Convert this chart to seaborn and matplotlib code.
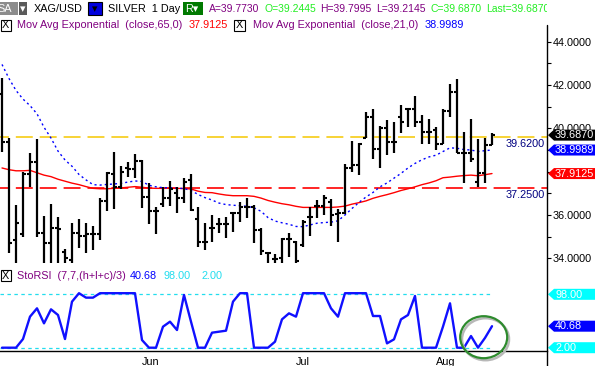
import numpy as np
import pandas as pd
import seaborn as sns
import matplotlib.pyplot as plt
from matplotlib.patches import Polygon, Rectangle, Ellipse
from matplotlib.lines import Line2D
from matplotlib.transforms import Affine2D
from matplotlib.ticker import MultipleLocator, FuncFormatter

# XAG/USD daily bars, 3 May - 11 Aug 2011
opens = [41.58, 39.38, 34.84, 35.10, 37.87, 38.46, 35.15, 34.69, 35.40, 34.30,
         33.92, 35.15, 35.05, 35.10, 35.10, 36.64, 37.89, 37.30, 38.18, 38.12,
         38.50, 36.84, 36.20, 36.49, 36.80, 37.00, 36.80, 37.60, 35.81, 34.77,
         35.41, 35.57, 35.57, 36.07, 36.07, 36.38, 36.38, 35.30, 34.23, 33.95,
         34.00, 34.89, 34.74, 34.60, 35.92, 36.41, 36.41, 36.60, 36.03, 36.10,
         38.16, 38.30, 39.57, 40.54, 39.03, 40.00, 39.38, 40.54, 40.87, 40.87,
         40.27, 39.81, 39.92, 39.30, 40.81, 41.66, 38.87, 38.87, 37.54, 37.92,
         39.2445]
highs = [42.31, 39.54, 36.46, 38.00, 38.84, 39.50, 35.97, 36.49, 35.92, 34.43,
         35.61, 35.81, 35.61, 35.49, 36.80, 37.97, 38.89, 38.26, 38.43, 38.80,
         38.54, 37.46, 36.38, 37.30, 37.57, 37.30, 37.69, 37.87, 36.38, 35.61,
         36.00, 35.84, 35.92, 36.15, 36.58, 36.77, 36.45, 35.41, 34.26, 34.18,
         34.95, 35.15, 34.81, 35.77, 36.38, 36.69, 36.92, 36.72, 36.26, 38.36,
         39.40, 39.31, 40.77, 40.88, 40.11, 40.39, 40.31, 41.07, 40.95, 41.49,
         40.61, 40.41, 40.07, 40.87, 42.04, 42.26, 39.84, 40.41, 39.49, 39.54,
         39.7995]
lows = [38.92, 34.23, 33.60, 35.00, 37.30, 35.00, 33.50, 32.40, 33.40, 33.30,
        33.50, 34.49, 34.23, 34.38, 34.84, 36.20, 36.26, 37.18, 37.77, 37.72,
        36.34, 35.57, 35.10, 36.38, 36.43, 36.07, 36.54, 36.18, 34.54, 34.38,
        34.77, 35.15, 34.92, 35.23, 35.66, 35.87, 34.69, 34.15, 33.60, 33.60,
        33.70, 34.07, 33.70, 34.54, 35.03, 35.84, 36.00, 35.50, 34.77, 36.03,
        38.00, 37.85, 39.57, 38.57, 38.16, 38.77, 38.85, 39.80, 40.07, 40.07,
        39.30, 39.27, 39.00, 39.27, 40.54, 38.87, 37.49, 38.46, 37.27, 37.49,
        39.2145]
closes = [39.38, 34.69, 35.64, 37.87, 38.46, 35.15, 34.70, 35.38, 35.35, 34.00,
          35.15, 35.05, 35.10, 35.10, 36.64, 37.92, 37.30, 38.00, 38.12, 38.50,
          36.84, 36.20, 36.20, 36.80, 37.20, 36.80, 37.53, 36.25, 34.77, 34.77,
          35.41, 35.57, 35.57, 36.07, 36.38, 36.38, 35.30, 34.34, 34.23, 33.98,
          34.89, 34.89, 33.89, 35.69, 35.92, 36.41, 36.77, 36.00, 36.10, 38.16,
          38.30, 39.30, 40.54, 39.03, 40.00, 39.39, 39.35, 40.30, 40.87, 40.27,
          39.85, 39.81, 39.30, 40.81, 41.66, 38.87, 38.87, 38.57, 37.92, 39.23,
          39.687]
ema21 = [42.95, 42.30, 41.75, 41.35, 41.05, 40.67, 40.05, 39.55, 38.95, 38.54,
         38.25, 37.87, 37.62, 37.40, 37.38, 37.41, 37.43, 37.46, 37.52, 37.57,
         37.55, 37.37, 37.30, 37.26, 37.26, 37.24, 37.22, 37.13, 36.95, 36.80,
         36.69, 36.55, 36.48, 36.45, 36.43, 36.40, 36.33, 36.17, 35.88, 35.72,
         35.64, 35.57, 35.47, 35.46, 35.54, 35.62, 35.65, 35.67, 35.73, 36.00,
         36.30, 36.58, 36.83, 37.04, 37.30, 37.48, 37.70, 37.92, 38.17, 38.38,
         38.55, 38.68, 38.76, 38.93, 39.10, 39.08, 39.02, 39.00, 38.93, 38.97,
         38.9989]
ema65 = [38.17, 38.09, 38.04, 38.04, 38.06, 37.95, 37.84, 37.77, 37.65, 37.56,
         37.47, 37.40, 37.31, 37.23, 37.21, 37.21, 37.23, 37.25, 37.28, 37.31,
         37.28, 37.24, 37.23, 37.23, 37.23, 37.23, 37.22, 37.20, 37.10, 37.04,
         37.03, 36.97, 36.92, 36.89, 36.89, 36.89, 36.86, 36.78, 36.67, 36.59,
         36.52, 36.47, 36.40, 36.35, 36.35, 36.35, 36.35, 36.35, 36.37, 36.41,
         36.50, 36.57, 36.65, 36.77, 36.86, 36.94, 37.03, 37.13, 37.21, 37.30,
         37.40, 37.48, 37.58, 37.72, 37.75, 37.79, 37.82, 37.84, 37.81, 37.86,
         37.9125]
storsi = [2, 2, 2, 17.6, 57.8, 72.8, 45.8, 71, 60.8, 17.6,
          84.8, 100, 92, 92, 100, 100, 100, 100, 100, 100,
          15.8, 2, 2, 39.8, 48.8, 33.8, 96.8, 48.8, 2, 2,
          29, 30.8, 32.6, 84.8, 100, 100, 2, 2, 2, 12.8,
          53, 63.8, 57.8, 100, 100, 100, 100, 72.8, 57.8, 100,
          100, 100, 100, 59, 59, 9.8, 17, 53, 60.8, 95,
          2, 2, 2, 40, 81.8, 2, 2, 23, 2, 19.6,
          40.68]
month_ticks = [20, 42, 62]
month_labels = ['Jun', 'Jul', 'Aug']
resistance = 39.62
support = 37.25
quote = [('A=39.7730', '#800080'), ('O=39.2445', '#22ee22'), ('H=39.7995', '#800080'),
         ('L=39.2145', '#800080'), ('C=39.6870', '#22ee22'), ('Last=39.6870', '#22ee22')]

df = pd.DataFrame({'i': np.arange(len(closes)), 'open': opens, 'high': highs,
                   'low': lows, 'close': closes, 'ema21': ema21, 'ema65': ema65,
                   'storsi': storsi})

sns.set_style('white')
plt.rcParams['font.family'] = ['Liberation Sans', 'DejaVu Sans']
plt.rcParams['lines.scale_dashes'] = False
FS = 7.8
W, H = 595, 366

fig = plt.figure(figsize=(W / 100, H / 100), dpi=100)
px = Affine2D().scale(1 / W, -1 / H).translate(0, 1) + fig.transFigure

ax = fig.add_axes([0, 1 - 263 / H, 547 / W, (263 - 25) / H])
ax2 = fig.add_axes([0, 1 - 351 / H, 547 / W, (351 - 263) / H])
for a in (ax, ax2):
    a.set_xlim(-2 / 7, 545 / 7)
    a.set_facecolor('none')
    for s in a.spines.values():
        s.set_visible(False)
ax.set_ylim(33.783, 44.771)
ax2.set_ylim(-3.93, 154.3)

# price panel
ax.axhline(resistance, color='#f5c800', lw=1.1, linestyle=(5.8, (12.2, 5.0)))
ax.axhline(support, color='#ff0000', lw=1.2, linestyle=(5.8, (12.2, 5.0)))
sns.lineplot(data=df, x='i', y='ema65', ax=ax, color='#ff0000', lw=1.0, legend=False)
sns.lineplot(data=df, x='i', y='ema21', ax=ax, color='#0000ff', lw=1.0,
             linestyle=(0, (1.5, 2.2)), legend=False)
ax.vlines(df['i'], df['low'], df['high'], color='black', lw=1.6, capstyle='butt')
ax.hlines(df['open'], df['i'] - 0.42, df['i'], color='black', lw=1.5, capstyle='butt')
ax.hlines(df['close'], df['i'], df['i'] + 0.42, color='black', lw=1.5, capstyle='butt')

ax.set_xticks([])
ax.yaxis.tick_right()
ax.yaxis.set_major_locator(MultipleLocator(2))
ax.yaxis.set_minor_locator(MultipleLocator(1))
# the 38 label sits fully under the EMA65 flag in the original
ax.yaxis.set_major_formatter(FuncFormatter(lambda v, p: '' if abs(v - 38) < 0.01 else f'{v:.4f}'))
ax.tick_params(axis='y', which='both', direction='out', length=3, width=0.8,
               pad=1, labelsize=FS, colors='black')
ax.set_xlabel('')
ax.set_ylabel('')

# stochastic RSI panel
ax2.axhline(98, color='#22ddee', lw=0.9, linestyle=(0, (2.5, 2.5)), xmax=492 / 547)
ax2.axhline(2, color='#22ddee', lw=0.9, linestyle=(0, (2.5, 2.5)), xmax=492 / 547)
sns.lineplot(data=df, x='i', y='storsi', ax=ax2, color='#1010ff', lw=1.7, legend=False)
ax2.spines['bottom'].set_visible(True)
ax2.spines['bottom'].set_color('black')
ax2.spines['bottom'].set_linewidth(1.0)
ax2.set_yticks([])
ax2.set_xticks(month_ticks)
ax2.set_xticklabels(month_labels, ha='left', fontsize=FS)
ax2.tick_params(axis='x', direction='out', length=4, width=0.8, pad=0.5, colors='black')
ax2.set_xlabel('')
ax2.set_ylabel('')

fig.add_artist(Line2D([547, 547], [25, 366], transform=px, color='black', lw=1.0))


def py(a, v):
    return H - a.transData.transform((0, v))[1]


def flag(y, label, fc):
    fig.add_artist(Polygon([(548, y), (554, y - 5.5), (596, y - 5.5), (596, y + 5.5), (554, y + 5.5)],
                           closed=True, transform=px, fc=fc, ec='none'))
    fig.text(555, y + 0.3, label, transform=px, color='white', fontsize=FS, va='center', ha='left')


flag(py(ax, closes[-1]), f'{closes[-1]:.4f}', 'black')
flag(py(ax, ema21[-1]), f'{ema21[-1]:.4f}', '#0000ff')
flag(py(ax, ema65[-1]), f'{ema65[-1]:.4f}', '#ff0000')
flag(py(ax2, 98), '98.00', '#00ffff')
flag(py(ax2, storsi[-1]), f'{storsi[-1]:.2f}', '#0000ff')
flag(py(ax2, 2), '2.00', '#00ffff')

fig.text(545, py(ax, resistance) + 7.5, f'{resistance:.4f}', transform=px, color='#000080',
         fontsize=FS, ha='right', va='center')
fig.text(545, py(ax, support) + 7.5, f'{support:.4f}', transform=px, color='#000080',
         fontsize=FS, ha='right', va='center')


# header rows
def box(x0, y0, w, h, fc, ec='none'):
    fig.add_artist(Rectangle((x0, y0), w, h, transform=px, fc=fc, ec=ec, lw=0.8))


def txt(x, y, s, c, **kw):
    kw.setdefault('fontsize', FS)
    return fig.text(x, y, s, transform=px, color=c, va='center', ha='left', **kw)


box(-1, 2, 18.5, 13, '#8c8c8c')
txt(-3, 8.7, 'SA', 'white')
box(19, 2, 8, 13, '#5a5a5a')
txt(20, 8.7, '▾', 'white', family='DejaVu Sans')
txt(34, 8.7, 'XAG/USD', 'black')
box(88, 2, 13.5, 13, '#0000dd', 'black')
txt(91.5, 8.7, '▾', 'black', family='DejaVu Sans')
txt(107.5, 8.7, 'SILVER  1 Day', 'black')
box(183, 2, 20, 13, '#007a00')
txt(185, 8.7, 'R▾', 'white', family=['Liberation Sans', 'DejaVu Sans'])

# quote line is cut off where the price scale begins
clip = Rectangle((0, 0), 547, 18, transform=px, visible=False)
fig.add_artist(clip)
renderer = fig.canvas.get_renderer()
x = 209.3
for s, c in quote:
    t = txt(x, 8.7, s, c, fontsize=7.5)
    t.set_clip_path(clip)
    x += t.get_window_extent(renderer).width + 4.5

box(0.5, 19.5, 10, 11, 'white', 'black')
txt(1.8, 25.3, 'X', 'black')
txt(16.7, 25.3, 'Mov Avg Exponential  (close,65,0)', '#800080')
txt(188.7, 25.3, f'{ema65[-1]:.4f}', '#ff0000')
box(233.5, 19.5, 11, 11, 'white', 'black')
txt(235.6, 25.3, 'X', 'black')
txt(253.3, 25.3, 'Mov Avg Exponential  (close,21,0)', '#800080')
txt(425, 25.3, f'{ema21[-1]:.4f}', '#0000ff')

box(0.5, 270, 10, 11, 'white', 'black')
txt(1.8, 275.8, 'X', 'black')
txt(16.7, 275.8, 'StoRSI  (7,7,(h+l+c)/3)', '#800080')
txt(130, 275.8, f'{storsi[-1]:.2f}', '#0000ff')
txt(163, 275.8, '98.00', '#22ddee')
txt(202, 275.8, '2.00', '#22ddee')

# highlight circle with shadow
fig.add_artist(Ellipse((485.5, 339.2), 47, 42, transform=px, fc='none', ec='#b8b8b8', lw=1.8))
fig.add_artist(Ellipse((483.7, 337.2), 47, 42, transform=px, fc='none', ec='#2e8b2e', lw=1.6))

fig.savefig('out.png', dpi=100)
